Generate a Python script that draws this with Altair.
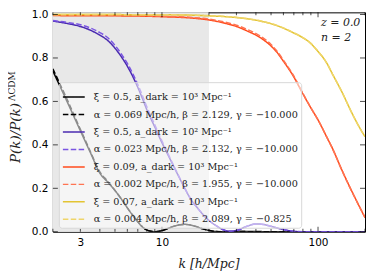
import altair as alt
import pandas as pd

# ---------------- data ----------------
k_black = [2, 2.5, 3, 3.5, 4, 4.5, 5, 5.5, 6, 6.5, 7, 7.5, 8, 8.5, 9, 10, 11, 12, 13, 14,
           15, 16, 18, 20, 22, 25, 30, 40, 50, 70, 100, 150, 200]
v_black = [0.74, 0.59, 0.465, 0.36, 0.27, 0.228, 0.19, 0.15, 0.11, 0.075, 0.046, 0.022, 0.008,
           0.002, 0.0, 0.005, 0.016, 0.026, 0.032, 0.034, 0.032, 0.027, 0.015, 0.006, 0.001,
           0.0, 0.002, 0.001, 0.0, 0.0, 0.0, 0.0, 0.0]
v_black_fit = [0.75, 0.60, 0.472, 0.365, 0.275, 0.232, 0.19, 0.15, 0.11, 0.076, 0.046, 0.022,
               0.008, 0.002, 0.0, 0.005, 0.016, 0.026, 0.032, 0.034, 0.032, 0.027, 0.015, 0.006,
               0.001, 0.0, 0.0, 0.0, 0.0, 0.0, 0.0, 0.0, 0.0]

k_purple = [2, 2.5, 3, 3.5, 4, 4.5, 5, 5.5, 6, 6.5, 7, 7.5, 8, 9, 10, 11, 12, 13, 14, 15, 17,
            20, 22, 25, 27, 30, 35, 40, 45, 50, 60, 70, 80, 100, 150, 200]
v_purple = [0.970, 0.958, 0.945, 0.927, 0.905, 0.88, 0.845, 0.805, 0.762, 0.715, 0.665, 0.613,
            0.562, 0.482, 0.41, 0.35, 0.295, 0.245, 0.20, 0.16, 0.107, 0.052, 0.03, 0.008, 0.002,
            0.006, 0.025, 0.036, 0.033, 0.025, 0.01, 0.002, 0.0, 0.0, 0.0, 0.0]
v_purple_fit = [0.972, 0.963, 0.953, 0.937, 0.917, 0.893, 0.858, 0.818, 0.775, 0.728, 0.678,
                0.626, 0.575, 0.492, 0.418, 0.355, 0.298, 0.247, 0.201, 0.16, 0.107, 0.052, 0.03,
                0.008, 0.002, 0.006, 0.025, 0.036, 0.033, 0.025, 0.01, 0.002, 0.0, 0.0, 0.0, 0.0]

k_orange = [2, 5, 10, 16, 20, 26, 30, 35, 42.6, 50, 54, 60, 69, 80, 90, 100, 113, 125, 140,
            159, 180, 200]
v_orange = [0.995, 0.994, 0.99, 0.983, 0.975, 0.958, 0.945, 0.925, 0.894, 0.855, 0.83, 0.785,
            0.72, 0.635, 0.57, 0.515, 0.44, 0.377, 0.295, 0.209, 0.13, 0.065]
v_orange_fit = [0.997, 0.996, 0.992, 0.986, 0.979, 0.963, 0.951, 0.932, 0.901, 0.862, 0.836,
                0.79, 0.724, 0.637, 0.571, 0.515, 0.44, 0.376, 0.294, 0.208, 0.13, 0.066]

k_yellow = [2, 10, 20, 30, 42.6, 55, 69, 80, 88.5, 100, 113, 125, 144, 158, 175, 194, 200]
v_yellow = [1.0, 0.999, 0.994, 0.986, 0.97, 0.948, 0.917, 0.893, 0.871, 0.83, 0.78, 0.72,
            0.636, 0.574, 0.51, 0.453, 0.438]
v_yellow_fit = [1.0, 0.999, 0.995, 0.987, 0.971, 0.949, 0.918, 0.894, 0.872, 0.831, 0.78,
                0.72, 0.636, 0.574, 0.51, 0.453, 0.438]

labels = [
    "ξ = 0.5, a_dark = 10³ Mpc⁻¹",
    "α = 0.069 Mpc/h, β = 2.129, γ = −10.000",
    "ξ = 0.5, a_dark = 10² Mpc⁻¹",
    "α = 0.023 Mpc/h, β = 2.132, γ = −10.000",
    "ξ = 0.09, a_dark = 10³ Mpc⁻¹",
    "α = 0.002 Mpc/h, β = 1.955, γ = −10.000",
    "ξ = 0.07, a_dark = 10³ Mpc⁻¹",
    "α = 0.004 Mpc/h, β = 2.089, γ = −0.825",
]
colors = ["#000000", "#000000", "#4a2ab0", "#7a55e2", "#ff4b1c", "#ff7452", "#e3c432", "#efd56a"]
dashes = [[1, 0], [5.5, 2.4], [1, 0], [5.5, 2.4], [1, 0], [5.5, 2.4], [1, 0], [5.5, 2.4]]

shade_k = [2, 20]
shade_v = [0, 1.01]
x_label_vals = [3, 10, 100]
x_major = [10, 100]
x_minor = [2, 3, 4, 5, 6, 7, 8, 9, 20, 30, 40, 50, 60, 70, 80, 90, 200]
y_major = [0.0, 0.2, 0.4, 0.6, 0.8, 1.0]
ann_k = [104.5, 104.5]
ann_v = [0.962, 0.89]
ann_text = ["z = 0.0", "n = 2"]

# ---------------- build table ----------------
series = [
    (k_black, v_black), (k_black, v_black_fit),
    (k_purple, v_purple), (k_purple, v_purple_fit),
    (k_orange, v_orange), (k_orange, v_orange_fit),
    (k_yellow, v_yellow), (k_yellow, v_yellow_fit),
]
rows = []
for i, (ks, vs) in enumerate(series):
    for kk, vv in zip(ks, vs):
        rows.append({"k": kk, "v": vv, "series": labels[i], "idx": i})
df = pd.DataFrame(rows)

W, H = 313, 220
xscale = alt.Scale(type="log", domain=[2, 200], nice=False)
yscale = alt.Scale(domain=[0, 1.01], nice=False, zero=False)

legend = alt.Legend(
    orient="none", legendX=6, legendY=70, title=None, symbolType="stroke",
    symbolSize=480, symbolStrokeWidth=1.5, labelFont="DejaVu Serif", labelFontSize=9.7,
    labelColor="#222222", labelLimit=400, rowPadding=0.5, padding=3, labelOffset=8,
    fillColor="rgba(255,255,255,0.55)", strokeColor="#d8d8d8", cornerRadius=3, zindex=1,
)

xaxis = alt.Axis(values=x_label_vals, format="d", ticks=False, domain=False, grid=False,
                 title=None, labelFont="DejaVu Sans", labelFontSize=10.5, labelColor="black",
                 labelPadding=6, labelOverlap=False, labelFlush=False)
yaxis = alt.Axis(values=y_major, format=".1f", ticks=False, domain=False, grid=False,
                 title=None, labelFont="DejaVu Sans", labelFontSize=10.5,
                 labelColor="#000000", labelOpacity=1, labelPadding=5, labelOverlap=False,
                 labelFlush=False, labelBound=False, zindex=2, labelAlign="right",
                 labelBaseline="middle")

shade = alt.Chart(pd.DataFrame({"k0": [shade_k[0]], "k1": [shade_k[1]],
                                "v0": [shade_v[0]], "v1": [shade_v[1]]})).mark_rect(
    color="#e8e8e8").encode(
    x=alt.X("k0:Q", scale=xscale, axis=xaxis), x2="k1:Q",
    y=alt.Y("v0:Q", scale=yscale, axis=yaxis), y2="v1:Q")

lines = alt.Chart(df).mark_line(strokeWidth=1.5, interpolate="monotone", clip=True).encode(
    x=alt.X("k:Q", scale=xscale, axis=xaxis),
    y=alt.Y("v:Q", scale=yscale, axis=yaxis),
    color=alt.Color("series:N", scale=alt.Scale(domain=labels, range=colors), legend=legend),
    strokeDash=alt.StrokeDash("series:N", scale=alt.Scale(domain=labels, range=dashes),
                              legend=legend),
    order=alt.Order("k:Q"),
)

xmaj = pd.DataFrame({"k": x_major})
xmin = pd.DataFrame({"k": x_minor})
ymaj = pd.DataFrame({"v": y_major})

def xticks(d, size, ypix):
    return alt.Chart(d).mark_tick(orient="vertical", size=size, thickness=1, color="black").encode(
        x=alt.X("k:Q", scale=xscale, axis=xaxis), y=alt.value(ypix))

def yticks(d, size, xpix):
    return alt.Chart(d).mark_tick(orient="horizontal", size=size, thickness=1, color="black").encode(
        y=alt.Y("v:Q", scale=yscale, axis=yaxis), x=alt.value(xpix))

ticks = [
    xticks(xmaj, 5, H - 2.5), xticks(xmaj, 5, 2.5),
    xticks(xmin, 3, H - 1.5), xticks(xmin, 3, 1.5),
    yticks(ymaj, 5, 2.5), yticks(ymaj, 5, W - 2.5),
]

ann = alt.Chart(pd.DataFrame({"k": ann_k, "v": ann_v, "t": ann_text})).mark_text(
    font="DejaVu Serif", fontStyle="italic", fontSize=11, align="left", baseline="middle",
    color="#222222").encode(
    x=alt.X("k:Q", scale=xscale, axis=xaxis), y=alt.Y("v:Q", scale=yscale, axis=yaxis),
    text="t:N")

ytitle_main = alt.Chart(pd.DataFrame({"t": ["P(k)/P(k)"]})).mark_text(
    font="DejaVu Serif", fontStyle="italic", fontSize=13.5, angle=270, align="center",
    baseline="middle", color="#222222").encode(
    x=alt.value(-37), y=alt.value(121), text="t:N")
ytitle_sup = alt.Chart(pd.DataFrame({"t": ["ΛCDM"]})).mark_text(
    font="DejaVu Serif", fontSize=9, angle=270, align="center",
    baseline="middle", color="#222222").encode(
    x=alt.value(-41), y=alt.value(74), text="t:N")
xtitle = alt.Chart(pd.DataFrame({"t": ["k [h/Mpc]"]})).mark_text(
    font="DejaVu Serif", fontStyle="italic", fontSize=12.5, align="center",
    baseline="middle", color="#222222").encode(
    x=alt.value(W / 2), y=alt.value(H + 32), text="t:N")

chart = alt.layer(shade, lines, *ticks, ann, ytitle_main, ytitle_sup, xtitle).properties(
    width=W, height=H, padding={"left": 0, "right": 0, "top": 1, "bottom": 0},
    background="white"
).configure_view(stroke="black", strokeWidth=1)

chart.save("out.html", embed_options={"renderer": "svg", "actions": False})
